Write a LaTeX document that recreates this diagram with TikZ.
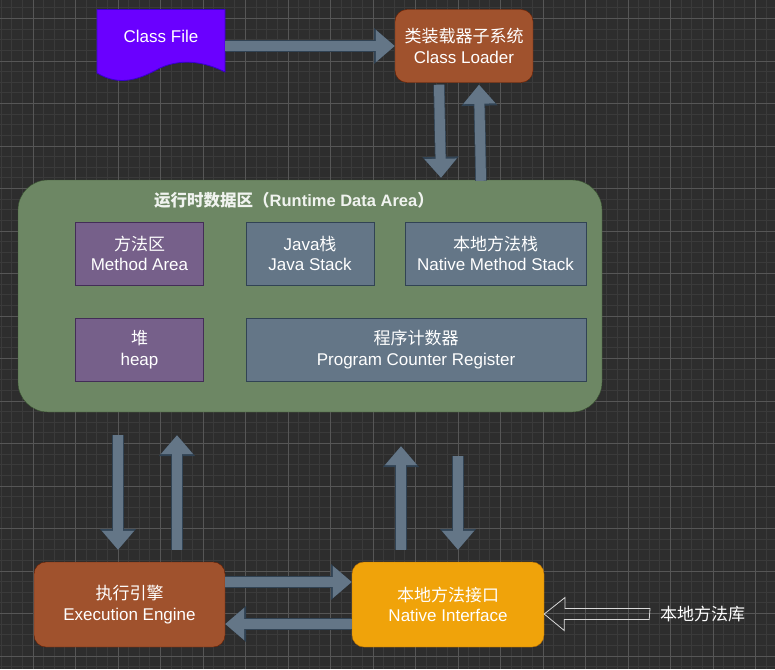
\documentclass[tikz,border=0pt]{standalone}
\usepackage{fontspec}
\setmainfont{Liberation Sans}
\newfontfamily\cjk{Noto Sans CJK SC}
\usetikzlibrary{arrows.meta}
\definecolor{canvasbg}{HTML}{2D2D2D}
\definecolor{gridminor}{HTML}{3A3A3A}
\definecolor{gridmajor}{HTML}{565656}
\definecolor{arrowfill}{HTML}{647687}
\definecolor{arrowline}{HTML}{314354}
\definecolor{purplefill}{HTML}{76608A}
\definecolor{purpleline}{HTML}{432D57}
\definecolor{rustfill}{HTML}{A0522D}
\definecolor{rustline}{HTML}{6D1F00}
\definecolor{greenfill}{HTML}{6D8764}
\definecolor{greenline}{HTML}{3A5431}
\definecolor{amberfill}{HTML}{F0A30A}
\definecolor{amberline}{HTML}{BD7000}
\definecolor{docfill}{HTML}{6A00FF}
\definecolor{docline}{HTML}{3700CC}
\tikzset{
  labelbox/.style={align=center,text=white,inner sep=0pt,font=\fontsize{17}{20.5}\selectfont},
  bluebox/.style={labelbox,draw=arrowline,fill=arrowfill},
  purplebox/.style={labelbox,draw=purpleline,fill=purplefill},
  rustbox/.style={labelbox,draw=rustline,fill=rustfill,rounded corners=12pt},
  blockarrow/.style={line width=10pt,arrowfill,-{Triangle[length=19pt,width=31pt]},
    preaction={draw=arrowline,line width=11.5pt,-{Triangle[length=21pt,width=35pt]}}},
  hollowarrow/.style={draw=white!85!black,line width=0.8pt,line join=miter}
}
\begin{document}
\begin{tikzpicture}[x=1pt,y=-1pt]
  \useasboundingbox (0,0) rectangle (775,669);
  \fill[canvasbg] (0,0) rectangle (775,669);
  \foreach \k in {0,...,73} \draw[gridminor,line width=0.8pt] ({-9.5+10.625*\k},0) -- ({-9.5+10.625*\k},669);
  \foreach \k in {0,...,64} \draw[gridminor,line width=0.8pt] (0,{7.875+10.625*\k}) -- (775,{7.875+10.625*\k});
  \foreach \k in {1,...,18} \draw[gridmajor,line width=0.8pt] ({-9.5+42.5*\k},0) -- ({-9.5+42.5*\k},669);
  \foreach \k in {0,...,15} \draw[gridmajor,line width=0.8pt] (0,{18.5+42.5*\k}) -- (775,{18.5+42.5*\k});

  \draw[draw=docline,fill=docfill,line width=0.8pt]
    (97,9.5) -- (225,9.5) -- (225,72) .. controls (205,62) and (182,58) .. (160,68)
    .. controls (140,79) and (120,87) .. (97,73) -- cycle;
  \node[labelbox,minimum width=128pt,minimum height=53pt] (classfile) at (161,36) {Class File};
  \node[rustbox,minimum width=138pt,minimum height=73pt] (loader) at (464,46) {{\cjk 类装载器子系统}\\Class Loader};
  \node[draw=greenline,fill=greenfill,rounded corners=30pt,
    minimum width=584pt,minimum height=232pt,inner sep=0pt] (dataarea) at (310,296) {};
  \node[text=white!90!greenfill,font=\bfseries\fontsize{16.5}{19}\selectfont,inner sep=0pt] (areatitle) at (294,200)
    {{\cjk\bfseries 运行时数据区（}Runtime Data Area{\cjk\bfseries ）}};
  \node[purplebox,minimum width=128pt,minimum height=63pt] (method) at (139.5,253.5) {{\cjk 方法区}\\Method Area};
  \node[bluebox,minimum width=128pt,minimum height=63pt] (javastack) at (310,253.5) {Java{\cjk 栈}\\Java Stack};
  \node[bluebox,minimum width=181pt,minimum height=63pt] (nativestack) at (495.5,253.5) {{\cjk 本地方法栈}\\Native Method Stack};
  \node[purplebox,minimum width=128pt,minimum height=63pt] (heap) at (139.5,349.5) {{\cjk 堆}\\heap};
  \node[bluebox,minimum width=340pt,minimum height=63pt] (counter) at (416,349.5) {{\cjk 程序计数器}\\Program Counter Register};
  \node[rustbox,minimum width=191pt,minimum height=85pt] (engine) at (129.5,604.5) {{\cjk 执行引擎}\\Execution Engine};
  \node[labelbox,draw=amberline,fill=amberfill,rounded corners=12pt,
    minimum width=192pt,minimum height=85pt] (native) at (448,604.5) {{\cjk 本地方法接口}\\Native Interface};
  \node[labelbox,anchor=west] (nativelib) at (660,614) {\cjk 本地方法库};

  \draw[blockarrow] ([yshift=-10pt]classfile.east) -- (loader.west);
  \draw[blockarrow] ([xshift=-25pt,yshift=-2pt]loader.south) -- ([xshift=131pt,yshift=2pt]dataarea.north);
  \draw[blockarrow] ([xshift=171pt,yshift=-1pt]dataarea.north) -- ([xshift=15pt,yshift=-2pt]loader.south);
  \draw[blockarrow] ([xshift=-192pt,yshift=-23pt]dataarea.south) -- ([xshift=-11.5pt,yshift=12pt]engine.north);
  \draw[blockarrow] ([xshift=47.5pt,yshift=12pt]engine.north) -- ([xshift=-133pt,yshift=-23pt]dataarea.south);
  \draw[blockarrow] ([xshift=-47pt,yshift=12pt]native.north) -- ([xshift=91pt,yshift=-34pt]dataarea.south);
  \draw[blockarrow] ([xshift=148pt,yshift=-44pt]dataarea.south) -- ([xshift=10pt,yshift=12pt]native.north);
  \draw[blockarrow] ([yshift=22.5pt]engine.east) -- ([yshift=22.5pt]native.west);
  \draw[blockarrow] ([yshift=-19.5pt]native.west) -- ([yshift=-19.5pt]engine.east);
  \draw[hollowarrow] (nativelib.west) ++(-10,-5.5) -- ++(-85,0) -- ++(0,-11) -- (native.east |- nativelib.west) -- ++(20,16.5) -- ++(0,-11) -- ++(85,0) -- cycle;
\end{tikzpicture}
\end{document}
